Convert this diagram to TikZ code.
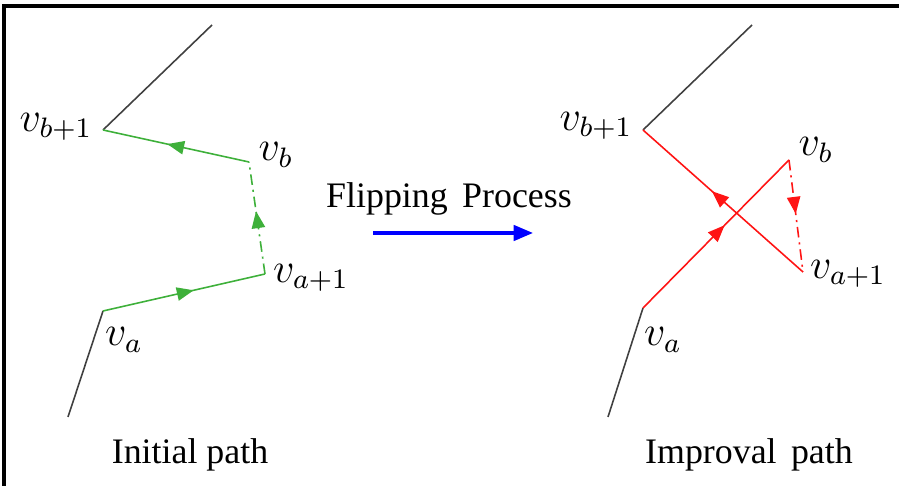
\documentclass[tikz,border=0pt]{standalone}
\usepackage{fontspec}
\setmainfont{Liberation Serif}
\usetikzlibrary{arrows.meta,decorations.markings}

\definecolor{pathgreen}{RGB}{62,176,58}
\definecolor{pathred}{RGB}{255,20,20}

\tikzset{
  midarrow/.style={postaction={decorate},
    decoration={markings,mark=at position #1 with {\arrow{Triangle[length=4.8pt,width=3.8pt]}}}},
  edgeline/.style={line width=0.45pt},
  dashdotline/.style={line width=0.45pt,dash pattern=on 3pt off 1.4pt on 0.6pt off 1.4pt},
  vlabel/.style={inner sep=0pt,font=\fontsize{11.5}{13}\selectfont},
  caption/.style={inner sep=0pt,font=\fontsize{10.2}{12}\selectfont},
}

\begin{document}
\begin{tikzpicture}[x=0.01cm,y=-0.01cm]
    \useasboundingbox (0,0) rectangle (899,486);

    % Frame
    \draw[line width=1pt] (4,486) -- (4,6) -- (899,6);

    % Vertices of the initial path
    \coordinate (iTop) at (212,25);
    \coordinate (iBone) at (103,130);
    \coordinate (iB) at (249,162);
    \coordinate (iAone) at (265,274);
    \coordinate (iA) at (103,311);
    \coordinate (iBot) at (68,417);

    % Edges of the initial path
    \draw[edgeline,black!75] (iTop) -- (iBone);
    \draw[edgeline,black!75] (iA) -- (iBot);
    \draw[edgeline,pathgreen,midarrow=0.56] (iA) -- (iAone);
    \draw[dashdotline,pathgreen,midarrow=0.56] (iAone) -- (iB);
    \draw[edgeline,pathgreen,midarrow=0.56] (iB) -- (iBone);

    % Labels of the initial path
    \node[vlabel] (iBoneLbl) at (56,127) {$v_{b+1}$};
    \node[vlabel] (iBLbl) at (276,155) {$v_b$};
    \node[vlabel] (iAoneLbl) at (311,278) {$v_{a+1}$};
    \node[vlabel] (iALbl) at (124,340) {$v_a$};

    % Flipping step
    \node[caption] (flipLbl) at (449,199) {Flipping\hspace{0.4em}Process};
    \coordinate (flipStart) at (373,233);
    \coordinate (flipEnd) at (533,233);
    \draw[-{Triangle[length=5.5pt,width=4.4pt]},blue,line width=0.9pt] (flipStart) -- (flipEnd);

    % Vertices of the improval path
    \coordinate (rTop) at (752,25);
    \coordinate (rBone) at (643,130);
    \coordinate (rB) at (789,160);
    \coordinate (rAone) at (803,272);
    \coordinate (rA) at (643,308);
    \coordinate (rBot) at (608,417);

    % Edges of the improval path
    \draw[edgeline,black!75] (rTop) -- (rBone);
    \draw[edgeline,black!75] (rA) -- (rBot);
    \draw[edgeline,pathred,midarrow=0.56] (rA) -- (rB);
    \draw[dashdotline,pathred,midarrow=0.48] (rB) -- (rAone);
    \draw[edgeline,pathred,midarrow=0.57] (rAone) -- (rBone);

    % Labels of the improval path
    \node[vlabel] (rBoneLbl) at (596,126) {$v_{b+1}$};
    \node[vlabel] (rBLbl) at (816,150) {$v_b$};
    \node[vlabel] (rAoneLbl) at (848,274) {$v_{a+1}$};
    \node[vlabel] (rALbl) at (663,340) {$v_a$};

    % Captions
    \node[caption] (initLbl) at (190,455) {Initial path};
    \node[caption] (imprLbl) at (749,455) {Improval\hspace{0.4em}path};

\end{tikzpicture}
\end{document}
